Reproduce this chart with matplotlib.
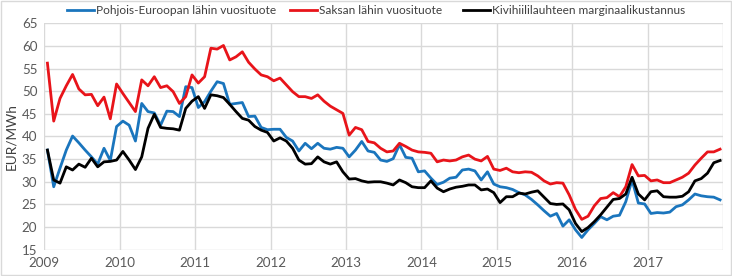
import matplotlib
matplotlib.use('Agg')
import matplotlib.pyplot as plt
import numpy as np

plt.rcParams['font.family'] = ['Lato', 'DejaVu Sans']

years = ['2009', '2010', '2011', '2012', '2013', '2014', '2015', '2016', '2017']

# monthly values 2009-01 .. 2017-12, EUR/MWh
pohjois = [37.0, 28.9, 33.0, 37.0, 40.1, 38.6, 37.0, 35.5, 33.9, 37.4, 34.7, 42.2,
           43.4, 42.5, 39.0, 47.3, 45.5, 45.2, 42.5, 45.6, 45.5, 44.4, 51.0, 50.8,
           46.4, 47.7, 50.0, 52.1, 51.7, 47.1, 47.3, 47.5, 44.4, 44.5, 42.0, 41.5,
           41.6, 41.6, 39.8, 39.0, 36.8, 38.5, 37.3, 38.5, 37.4, 37.2, 37.6, 37.4,
           35.5, 37.0, 38.9, 36.8, 36.5, 34.8, 34.5, 35.1, 38.2, 35.4, 35.2, 32.2,
           32.4, 30.8, 29.4, 29.9, 30.8, 31.0, 32.6, 32.8, 32.4, 30.4, 32.2, 29.5,
           28.9, 28.7, 28.3, 27.6, 27.1, 26.1, 24.9, 23.6, 22.4, 23.0, 20.2, 21.6,
           19.4, 17.7, 19.4, 20.8, 22.3, 21.6, 22.4, 22.6, 25.6, 30.4, 25.3, 25.1,
           23.0, 23.2, 23.1, 23.3, 24.5, 24.9, 26.0, 27.3, 26.9, 26.7, 26.6, 26.0]

saksa = [56.2, 43.4, 48.4, 51.2, 53.7, 50.5, 49.2, 49.3, 46.8, 48.7, 43.9, 51.6,
         49.5, 47.5, 45.5, 52.5, 51.2, 53.2, 50.8, 51.2, 49.9, 47.3, 48.8, 53.6,
         51.8, 53.2, 59.5, 59.3, 60.1, 56.9, 57.6, 58.7, 56.4, 54.9, 53.6, 53.2,
         52.3, 52.9, 51.4, 49.9, 48.8, 48.8, 48.4, 49.2, 47.8, 46.7, 45.9, 45.1,
         40.3, 42.0, 41.5, 38.9, 38.6, 37.4, 36.6, 36.8, 38.5, 37.8, 37.0, 36.6,
         36.5, 36.3, 34.4, 34.8, 34.6, 34.8, 35.5, 35.9, 35.0, 34.6, 35.6, 32.8,
         32.5, 33.0, 32.2, 32.0, 32.2, 32.1, 31.3, 30.2, 29.5, 29.8, 29.7, 27.1,
         23.9, 21.7, 22.4, 24.7, 26.3, 26.5, 27.6, 26.7, 28.9, 33.8, 31.3, 31.4,
         30.2, 30.4, 29.8, 29.8, 30.4, 31.0, 31.9, 33.7, 35.2, 36.6, 36.6, 37.2]

kivihiili = [37.0, 30.4, 29.7, 33.3, 32.6, 33.9, 33.2, 35.2, 33.3, 34.4, 34.5, 34.8,
             36.7, 34.8, 32.7, 35.5, 41.8, 44.9, 42.0, 41.8, 41.7, 41.4, 46.2, 47.8,
             48.8, 46.2, 49.2, 49.0, 48.6, 47.1, 45.5, 44.0, 43.6, 42.2, 41.4, 40.9,
             39.0, 39.7, 39.0, 37.4, 34.8, 33.9, 34.0, 35.5, 34.4, 33.9, 34.4, 32.2,
             30.6, 30.7, 30.2, 29.9, 30.0, 30.0, 29.7, 29.3, 30.4, 29.8, 28.9, 28.7,
             28.7, 30.2, 28.6, 27.8, 28.4, 28.8, 29.0, 29.3, 29.3, 28.2, 28.4, 27.6,
             25.4, 26.7, 26.7, 27.5, 27.3, 27.7, 28.0, 26.6, 25.2, 25.0, 25.1, 23.8,
             20.8, 19.0, 19.9, 21.2, 22.7, 24.4, 26.1, 26.3, 27.3, 31.0, 27.3, 26.0,
             27.8, 28.0, 26.7, 26.6, 26.6, 26.8, 27.8, 30.2, 30.7, 31.9, 34.2, 34.7]

x = np.arange(len(saksa)) + 0.5

fig = plt.figure(figsize=(7.32, 2.76), dpi=100)
ax = fig.add_axes([0.0605, 0.0953, 0.9275, 0.8203])

l1, = ax.plot(x, pohjois, color='#1a75bd', lw=2.0, label='Pohjois-Euroopan lähin vuosituote')
l2, = ax.plot(x, saksa, color='#e8141a', lw=2.0, label='Saksan lähin vuosituote')
l3, = ax.plot(x, kivihiili, color='#000000', lw=2.0, label='Kivihiililauhteen marginaalikustannus')

ax.set_xlim(0, 108)
ax.set_ylim(15, 65)
ax.set_yticks(range(15, 70, 5))
ax.set_xticks(range(0, 109, 12))
ax.set_xticklabels(years + [''])
ax.grid(True, color='#d9d9d9', lw=1.0)
ax.set_axisbelow(True)
for s in ax.spines.values():
    s.set_visible(False)
ax.tick_params(length=0, labelsize=9.6, colors='#595959', pad=5)
ax.set_ylabel('EUR/MWh', fontsize=9.8, color='#404040', labelpad=3)

# one legend per entry, spaced as in the original
for line, xpos in zip([l1, l2, l3], [67, 290, 463]):
    fig.legend([line], [line.get_label()], loc='upper left',
               bbox_to_anchor=(xpos / 732, 1 - 5 / 276), frameon=False,
               fontsize=8.6, handlelength=2.3, handletextpad=0.1,
               borderpad=0, borderaxespad=0, labelcolor='#404040')

fig.patches.append(plt.Rectangle((0.001, 0.002), 0.997, 0.995, transform=fig.transFigure,
                                 fill=False, edgecolor='#d9d9d9', lw=1))

fig.savefig('out.png', dpi=100)
